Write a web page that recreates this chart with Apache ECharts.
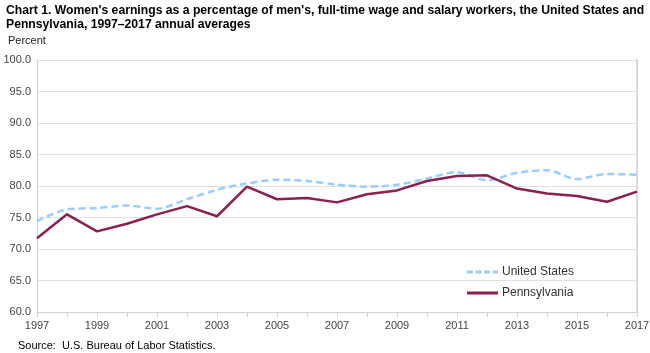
<!DOCTYPE html>
<html>
<head>
<meta charset="utf-8">
<script src="https://cdn.jsdelivr.net/npm/echarts@6/dist/echarts.min.js"></script>
<style>
html,body{margin:0;padding:0;background:#fff;}
#c{width:650px;height:353px;}
</style>
</head>
<body>
<div id="c"></div>
<script>
var years = ['1997','1998','1999','2000','2001','2002','2003','2004','2005','2006','2007','2008','2009','2010','2011','2012','2013','2014','2015','2016','2017'];
var unitedStates = [74.4,76.3,76.5,76.9,76.4,77.9,79.4,80.4,81.0,80.8,80.2,79.9,80.2,81.2,82.2,80.9,82.1,82.5,81.1,81.9,81.8];
var pennsylvania = [71.7,75.5,72.8,74.0,75.5,76.8,75.2,79.9,77.9,78.1,77.4,78.7,79.3,80.8,81.6,81.7,79.6,78.8,78.4,77.5,79.1];

var chart = echarts.init(document.getElementById('c'), null, {renderer:'canvas'});
var font = 'Arial, "Liberation Sans", sans-serif';
chart.setOption({
  animation:false,
  textStyle:{fontFamily:font},
  title:[
    {text:"Chart 1. Women's earnings as a percentage of men's, full-time wage and salary workers, the United States and\nPennsylvania, 1997\u20132017 annual averages",
     left:1, top:-1, textStyle:{fontSize:12.2, fontWeight:'bold', color:'#000', lineHeight:13.5, fontFamily:font}},
    {text:'Percent', left:3, top:30, textStyle:{fontSize:11, fontWeight:'normal', color:'#222', fontFamily:font}},
    {text:'Source:  U.S. Bureau of Labor Statistics.', left:13, top:335, textStyle:{fontSize:11, fontWeight:'normal', color:'#000', fontFamily:font}}
  ],
  grid:{left:37, right:13, top:60, bottom:41, containLabel:false, outerBoundsMode:'none'},
  legend:{
    orient:'vertical', left:462, top:261, itemGap:9, itemWidth:31, itemHeight:3,
    textStyle:{fontSize:12, color:'#333', fontFamily:font, padding:[0,0,0,-1]},
    data:[
      {name:'United States', icon:'path://M0,0h6v3H0z M8.5,0h6v3h-6z M17,0h6v3h-6z M25.5,0h5.5v3h-5.5z'},
      {name:'Pennsylvania', icon:'path://M0,0h31v3H0z'}
    ]
  },
  xAxis:{
    type:'category', data:years, boundaryGap:false,
    axisLine:{lineStyle:{color:'#d0d0d0', width:1}},
    axisTick:{interval:0, length:5, lineStyle:{color:'#d0d0d0'}},
    axisLabel:{interval:1, fontSize:11, color:'#444', margin:8, fontFamily:font},
    splitLine:{show:false}
  },
  yAxis:[{
    type:'value', min:60, max:100, interval:5,
    axisLine:{show:true, lineStyle:{color:'#d0d0d0'}},
    axisTick:{show:false},
    axisLabel:{fontSize:11, color:'#444', margin:6, fontFamily:font, formatter:function(v){return v.toFixed(1);}},
    splitLine:{lineStyle:{color:'#e0e0e0', width:1}}
  },{
    type:'value', min:60, max:100, interval:5, position:'right',
    axisLine:{show:true, lineStyle:{color:'#dadada', width:2}},
    axisTick:{show:false}, axisLabel:{show:false}, splitLine:{show:false}
  }],
  series:[
    {name:'United States', type:'line', data:unitedStates, smooth:0.3, symbol:'none',
     lineStyle:{color:'#99ccff', width:2.5, type:[7,4]}, itemStyle:{color:'#99ccff'}},
    {name:'Pennsylvania', type:'line', data:pennsylvania, smooth:false, symbol:'none',
     lineStyle:{color:'#8b1f52', width:2.5}, itemStyle:{color:'#8b1f52'}}
  ]
});
</script>
</body>
</html>
